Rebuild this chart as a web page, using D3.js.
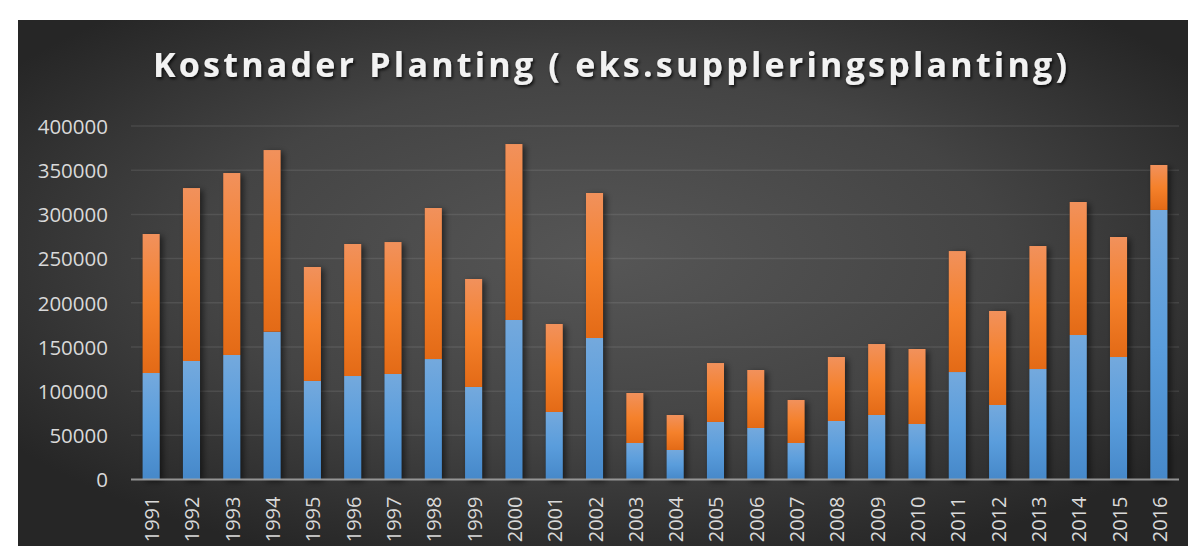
<!DOCTYPE html>
<html>
<head>
<meta charset="utf-8">
<script src="https://cdn.jsdelivr.net/npm/d3@7"></script>
<style>
  html, body { margin: 0; padding: 0; background: #ffffff; }
  svg { display: block; }
</style>
</head>
<body>
<svg id="chart" width="1188" height="546"></svg>
<script>
// Planting costs per year, split into two stacked parts
const years = ["1991","1992","1993","1994","1995","1996","1997","1998","1999","2000",
               "2001","2002","2003","2004","2005","2006","2007","2008","2009","2010",
               "2011","2012","2013","2014","2015","2016"];
const serie1 = [120500,134100,140900,167200,111500,117100,119400,136300,104700,180500,
                76400,160100,41300,33400,65100,58300,41300,66200,73000,62800,
                121600,84300,125000,163500,138600,305000];
const serie2 = [157300,195700,205900,205600,129000,149400,149300,170900,122200,199100,
                99600,164100,56600,39600,66700,65600,48700,72400,80300,84900,
                136900,106400,139200,150500,135800,50900];
const yTicks = [0,50000,100000,150000,200000,250000,300000,350000,400000];
const title = "Kostnader Planting ( eks.suppleringsplanting)";

const svg = d3.select("#chart");
const defs = svg.append("defs");

// background radial shading
const bg = defs.append("radialGradient").attr("id","bgGrad")
  .attr("cx","50%").attr("cy","45%").attr("r","62%");
bg.append("stop").attr("offset","0%").attr("stop-color","#565656");
bg.append("stop").attr("offset","55%").attr("stop-color","#444444");
bg.append("stop").attr("offset","100%").attr("stop-color","#262626");

const gOrange = defs.append("linearGradient").attr("id","gOrange")
  .attr("x1",0).attr("y1",0).attr("x2",0).attr("y2",1);
gOrange.append("stop").attr("offset","0%").attr("stop-color","#f1915c");
gOrange.append("stop").attr("offset","50%").attr("stop-color","#f5812b");
gOrange.append("stop").attr("offset","100%").attr("stop-color","#e36a16");

const gBlue = defs.append("linearGradient").attr("id","gBlue")
  .attr("x1",0).attr("y1",0).attr("x2",0).attr("y2",1);
gBlue.append("stop").attr("offset","0%").attr("stop-color","#74a9dd");
gBlue.append("stop").attr("offset","50%").attr("stop-color","#5a9ddc");
gBlue.append("stop").attr("offset","100%").attr("stop-color","#4688c9");

const shadow = defs.append("filter").attr("id","barShadow")
  .attr("x","-50%").attr("y","-10%").attr("width","220%").attr("height","130%");
shadow.append("feDropShadow").attr("dx",3).attr("dy",2).attr("stdDeviation",3)
  .attr("flood-color","#000").attr("flood-opacity",0.55);

const tShadow = defs.append("filter").attr("id","titleShadow")
  .attr("x","-5%").attr("y","-30%").attr("width","110%").attr("height","160%");
tShadow.append("feDropShadow").attr("dx",1.5).attr("dy",2).attr("stdDeviation",1.5)
  .attr("flood-color","#000").attr("flood-opacity",0.75);

// chart area
svg.append("rect").attr("x",18).attr("y",20).attr("width",1170).attr("height",526)
  .attr("fill","url(#bgGrad)");

const x = d3.scaleBand().domain(years).range([131,1179])
  .paddingInner(0.575).paddingOuter(0.2875);
const y = d3.scaleLinear().domain([0,400000]).range([479.5,126]);

// grid lines
svg.append("g").selectAll("line").data(yTicks.filter(d => d > 0)).join("line")
  .attr("x1",131).attr("x2",1179)
  .attr("y1",d => y(d)).attr("y2",d => y(d))
  .attr("stroke","rgba(255,255,255,0.09)").attr("stroke-width",1.5);

// y axis labels
const yAxis = svg.append("g").attr("transform","translate(108,0)")
  .call(d3.axisLeft(y).tickValues(yTicks).tickFormat(d3.format("d")).tickSize(0).tickPadding(0));
yAxis.select(".domain").remove();
yAxis.selectAll("text")
  .attr("fill","#d9d9d9").attr("font-family","'Open Sans', sans-serif").attr("font-size",20.5)
  .attr("dy","0.36em");

// stacked bars
const rows = years.map((yr,i) => ({year: yr, s1: serie1[i], s2: serie2[i]}));
const stack = d3.stack().keys(["s1","s2"])(rows);
const fills = {s1: "url(#gBlue)", s2: "url(#gOrange)"};

const barG = svg.append("g");
// shadows under whole stacks
barG.append("g").selectAll("rect").data(rows).join("rect")
  .attr("x",d => x(d.year)).attr("width",x.bandwidth())
  .attr("y",d => y(d.s1 + d.s2)).attr("height",d => y(0) - y(d.s1 + d.s2))
  .attr("fill","#222").attr("filter","url(#barShadow)");

barG.selectAll("g.series").data(stack).join("g").attr("class","series")
  .attr("fill",s => fills[s.key])
  .selectAll("rect").data(s => s).join("rect")
  .attr("x",d => x(d.data.year)).attr("width",x.bandwidth())
  .attr("y",d => y(d[1])).attr("height",d => y(d[0]) - y(d[1]));

// baseline
svg.append("line").attr("x1",131).attr("x2",1179)
  .attr("y1",y(0)).attr("y2",y(0))
  .attr("stroke","#a6a6a6").attr("stroke-opacity",0.85).attr("stroke-width",2);

// x axis labels, rotated
const xAxis = svg.append("g").attr("transform",`translate(0,${y(0)})`)
  .call(d3.axisBottom(x).tickSize(0).tickPadding(0));
xAxis.select(".domain").remove();
xAxis.selectAll("text")
  .attr("fill","#d9d9d9").attr("font-family","'Open Sans', sans-serif").attr("font-size",20)
  .attr("text-anchor","end").attr("dy",null).attr("y",null)
  .attr("transform","translate(8,17) rotate(-90)");

// title
svg.append("text").attr("x",610).attr("y",77).attr("text-anchor","middle")
  .attr("font-family","'Open Sans', sans-serif").attr("font-weight",700)
  .attr("font-size",34).attr("fill","#f2f2f2")
  .attr("textLength",914).attr("lengthAdjust","spacing")
  .attr("filter","url(#titleShadow)")
  .text(title);
</script>
</body>
</html>
